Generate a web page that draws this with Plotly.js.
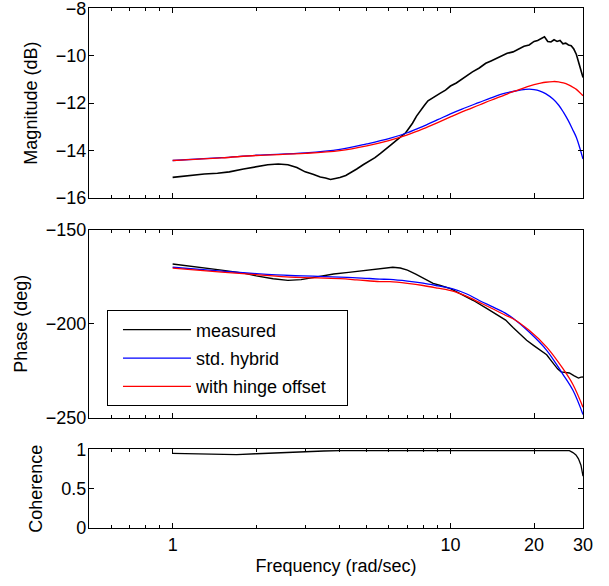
<!DOCTYPE html>
<html>
<head>
<meta charset="utf-8">
<script src="https://cdn.plot.ly/plotly-3.0.1.min.js"></script>
<style>html,body{margin:0;padding:0;background:#fff;}#chart{width:609px;height:586px;}</style>
</head>
<body>
<div id="chart"></div>
<script>
// ---------- data ----------
const freqMagMeas = [1.0,1.1,1.2,1.3,1.45,1.6,1.8,2.0,2.2,2.4,2.6,2.8,3.0,3.2,3.4,3.55,3.7,3.85,4.0,4.2,4.4,4.6,4.85,5.1,5.35,5.6,5.9,6.2,6.55,6.9,7.1,7.3,7.55,7.8,8.05,8.3,8.6,8.9,9.2,9.6,10.0,10.5,11.0,11.5,12.0,12.7,13.4,14.0,14.6,15.3,16.0,16.8,17.6,18.4,19.2,20.0,20.6,21.2,21.8,22.4,23.0,23.6,24.2,24.8,25.4,26.0,26.6,27.2,27.8,28.4,28.9,29.4,30.0];
const magMeas = [-15.13,-15.07,-15.02,-14.99,-14.96,-14.90,-14.78,-14.68,-14.60,-14.57,-14.60,-14.72,-14.90,-15.00,-15.12,-15.16,-15.22,-15.18,-15.14,-15.05,-14.93,-14.78,-14.60,-14.45,-14.30,-14.12,-13.92,-13.70,-13.47,-13.25,-13.05,-12.85,-12.55,-12.30,-12.10,-11.90,-11.80,-11.68,-11.58,-11.45,-11.28,-11.15,-10.98,-10.85,-10.68,-10.52,-10.32,-10.22,-10.12,-9.98,-9.90,-9.84,-9.72,-9.60,-9.55,-9.40,-9.36,-9.28,-9.20,-9.40,-9.42,-9.33,-9.40,-9.36,-9.50,-9.47,-9.55,-9.58,-9.72,-9.95,-10.25,-10.55,-10.92];

const freqMagModel = [1,1.5,2,3,4,5,6,7,8,9,10,11,12.7,14,15.5,16.8,18,19.2,20,20.9,22,23.4,24.5,25.5,26.5,27.5,28.4,29.2,30];
const magStd = [-14.42,-14.30,-14.20,-14.10,-13.95,-13.72,-13.50,-13.25,-12.97,-12.70,-12.45,-12.25,-11.97,-11.78,-11.60,-11.51,-11.44,-11.41,-11.43,-11.48,-11.60,-11.83,-12.08,-12.38,-12.72,-13.10,-13.45,-13.88,-14.36];
const magHinge = [-14.42,-14.31,-14.21,-14.12,-14.00,-13.80,-13.58,-13.34,-13.08,-12.82,-12.58,-12.37,-12.08,-11.88,-11.68,-11.52,-11.40,-11.28,-11.22,-11.17,-11.12,-11.09,-11.10,-11.15,-11.22,-11.32,-11.42,-11.55,-11.69];

const freqPhMeas = [1.0,1.2,1.5,1.8,2.0,2.3,2.6,2.9,3.1,3.4,3.8,4.3,5.0,5.6,6.2,6.6,7.0,7.5,8.0,8.66,9.2,10.0,11.0,12.1,13.5,14.5,15.8,16.8,17.7,18.8,19.9,21.0,22.2,23.0,23.6,24.3,25.0,25.8,26.8,27.8,28.9,29.5,30.0];
const phMeas = [-168.2,-169.5,-171.4,-173.0,-174.5,-176.0,-176.9,-176.5,-175.8,-174.5,-173.5,-172.6,-171.6,-170.6,-169.9,-170.3,-171.4,-173.5,-175.8,-178.5,-179.6,-181.3,-184.5,-187.6,-191.8,-194.6,-198.0,-202.0,-205.3,-208.8,-211.5,-213.8,-216.5,-219.5,-221.8,-224.0,-225.6,-225.8,-226.2,-227.6,-228.9,-228.4,-228.3];

const freqPhModel = [1,1.5,2,2.64,3.2,4,4.6,5.56,6.05,7,7.97,9,10.2,11.4,12.7,14,15.7,16.8,19.2,22.2,25.3,27.6,30];
const phStd = [-169.9,-172.0,-173.3,-174.3,-174.6,-175.2,-175.5,-176.2,-176.4,-177.3,-178.4,-179.8,-181.4,-184.0,-187.6,-190.6,-194.2,-197.1,-204.4,-214.1,-226.5,-235.4,-248.3];
const phHinge = [-170.4,-172.5,-173.8,-175.2,-175.5,-176.0,-176.6,-177.5,-177.6,-178.5,-179.6,-181.0,-182.6,-185.3,-188.6,-191.6,-195.3,-197.3,-203.5,-212.4,-223.5,-232.3,-244.5];

const freqCoh = [1,1.2,1.4,1.7,2.0,2.3,2.6,3.0,3.5,4,5,6,7,8,9,10,12,14,16,18,20,22,24,25.5,26.8,27.6,28.3,28.9,29.5,30];
const coh = [0.95,0.945,0.937,0.935,0.945,0.955,0.965,0.975,0.98,0.985,0.985,0.99,0.992,0.99,0.985,0.99,0.99,0.993,0.99,0.988,0.99,0.99,0.992,0.99,0.985,0.96,0.93,0.88,0.80,0.66];

const seriesNames = ['measured','std. hybrid','with hinge offset\u00a0\u00a0\u00a0'];
const xTickVals = [1,10,20,30];
const xTickText = ['1','10','20','30'];
const xMinorVals = [0.6,0.7,0.8,0.9,2,3,4,5,6,7,8,9];

// ---------- styling ----------
const FONT = 'Liberation Sans, Arial, Helvetica, sans-serif';
const FS = 18;
const cMeas = '#000000', cStd = '#0000ff', cHinge = '#ff0000';

const traces = [
  {x: freqMagMeas, y: magMeas, xaxis:'x', yaxis:'y', mode:'lines', line:{color:cMeas,width:1.6}, showlegend:false, name:seriesNames[0]},
  {x: freqMagModel, y: magStd, xaxis:'x', yaxis:'y', mode:'lines', line:{color:cStd,width:1.3,shape:'spline'}, showlegend:false, name:seriesNames[1]},
  {x: freqMagModel, y: magHinge, xaxis:'x', yaxis:'y', mode:'lines', line:{color:cHinge,width:1.3,shape:'spline'}, showlegend:false, name:seriesNames[2]},
  {x: freqPhMeas, y: phMeas, xaxis:'x2', yaxis:'y2', mode:'lines', line:{color:cMeas,width:1.4}, name:seriesNames[0], legendgroup:'a'},
  {x: freqPhModel, y: phStd, xaxis:'x2', yaxis:'y2', mode:'lines', line:{color:cStd,width:1.3,shape:'spline'}, name:seriesNames[1], legendgroup:'b'},
  {x: freqPhModel, y: phHinge, xaxis:'x2', yaxis:'y2', mode:'lines', line:{color:cHinge,width:1.3,shape:'spline'}, name:seriesNames[2], legendgroup:'c'},
  {x: freqCoh, y: coh, xaxis:'x3', yaxis:'y3', mode:'lines', line:{color:cMeas,width:1.3}, showlegend:false, name:'coherence'}
];

const xRange = [Math.log10(0.5), Math.log10(30)];
function xAxis(anchor, showLabels, extra) {
  return Object.assign({
    type:'log', range:xRange, anchor:anchor,
    tickmode:'array', tickvals:xTickVals, ticktext:xTickText,
    showticklabels:showLabels,
    ticks:'inside', ticklen:5, tickwidth:1, tickcolor:'#000',
    minor:{tickmode:'array', tickvals:xMinorVals, ticks:'inside', ticklen:3, tickwidth:1, tickcolor:'#000', showgrid:false},
    showline:true, linecolor:'#000', linewidth:1.2, mirror:'ticks',
    showgrid:false, zeroline:false,
    tickfont:{family:FONT, size:FS, color:'#000'}
  }, extra || {});
}
function yAxis(anchor, domain, range, tickvals, titleText, standoff) {
  return {
    domain:domain, range:range, anchor:anchor,
    tickmode:'array', tickvals:tickvals,
    ticks:'inside', ticklen:5, tickwidth:1, tickcolor:'#000',
    showline:true, linecolor:'#000', linewidth:1.2, mirror:'ticks',
    showgrid:false, zeroline:false,
    ticklabeloverflow:'allow', ticklabelstandoff:-2,
    tickfont:{family:FONT, size:FS, color:'#000'},
    title:{text:titleText, font:{family:FONT, size:FS, color:'#000'}, standoff:standoff}
  };
}

const layout = {
  width:609, height:586,
  margin:{l:89, r:26, t:8, b:58},
  paper_bgcolor:'#fff', plot_bgcolor:'#fff',
  font:{family:FONT, size:FS, color:'#000'},
  xaxis: xAxis('y', false),
  xaxis2: xAxis('y2', false, {matches:'x'}),
  xaxis3: xAxis('y3', true, {matches:'x', title:{text:'Frequency (rad/sec)', font:{family:FONT,size:FS,color:'#000'}, standoff:5}}),
  yaxis: yAxis('x', [0.6347,0.9995], [-16,-8], [-16,-14,-12,-10,-8], 'Magnitude (dB)', 13),
  yaxis2: yAxis('x2', [0.2121,0.5733], [-250,-150], [-250,-200,-150], 'Phase (deg)', 13),
  yaxis3: yAxis('x3', [0,0.1511], [0,1], [0,0.5,1], 'Coherence', 13),
  showlegend:true,
  legend:{x:0.0364, y:0.4184, xanchor:'left', yanchor:'top', bgcolor:'#fff', bordercolor:'#000', borderwidth:1,
          font:{family:FONT, size:FS, color:'#000'}, tracegroupgap:2, itemwidth:68, indentation:10}
};

Plotly.newPlot('chart', traces, layout, {staticPlot:true, displayModeBar:false});
</script>
</body>
</html>
